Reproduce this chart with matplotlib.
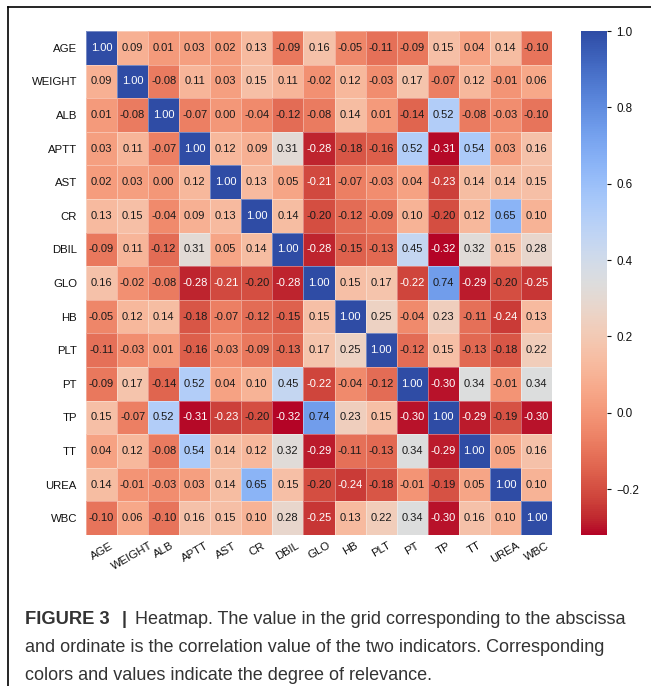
import numpy as np
import matplotlib
matplotlib.use("Agg")
import matplotlib.pyplot as plt
from matplotlib.colors import Normalize, ListedColormap

plt.rcParams['font.family'] = ['Liberation Sans', 'DejaVu Sans']

labels = ["AGE", "WEIGHT", "ALB", "APTT", "AST", "CR", "DBIL", "GLO",
          "HB", "PLT", "PT", "TP", "TT", "UREA", "WBC"]

r_age    = [1.00, 0.09, 0.01, 0.03, 0.02, 0.13, -0.09, 0.16, -0.05, -0.11, -0.09, 0.15, 0.04, 0.14, -0.10]
r_weight = [0.09, 1.00, -0.08, 0.11, 0.03, 0.15, 0.11, -0.02, 0.12, -0.03, 0.17, -0.07, 0.12, -0.01, 0.06]
r_alb    = [0.01, -0.08, 1.00, -0.07, 0.00, -0.04, -0.12, -0.08, 0.14, 0.01, -0.14, 0.52, -0.08, -0.03, -0.10]
r_aptt   = [0.03, 0.11, -0.07, 1.00, 0.12, 0.09, 0.31, -0.28, -0.18, -0.16, 0.52, -0.31, 0.54, 0.03, 0.16]
r_ast    = [0.02, 0.03, 0.00, 0.12, 1.00, 0.13, 0.05, -0.21, -0.07, -0.03, 0.04, -0.23, 0.14, 0.14, 0.15]
r_cr     = [0.13, 0.15, -0.04, 0.09, 0.13, 1.00, 0.14, -0.20, -0.12, -0.09, 0.10, -0.20, 0.12, 0.65, 0.10]
r_dbil   = [-0.09, 0.11, -0.12, 0.31, 0.05, 0.14, 1.00, -0.28, -0.15, -0.13, 0.45, -0.32, 0.32, 0.15, 0.28]
r_glo    = [0.16, -0.02, -0.08, -0.28, -0.21, -0.20, -0.28, 1.00, 0.15, 0.17, -0.22, 0.74, -0.29, -0.20, -0.25]
r_hb     = [-0.05, 0.12, 0.14, -0.18, -0.07, -0.12, -0.15, 0.15, 1.00, 0.25, -0.04, 0.23, -0.11, -0.24, 0.13]
r_plt    = [-0.11, -0.03, 0.01, -0.16, -0.03, -0.09, -0.13, 0.17, 0.25, 1.00, -0.12, 0.15, -0.13, -0.18, 0.22]
r_pt     = [-0.09, 0.17, -0.14, 0.52, 0.04, 0.10, 0.45, -0.22, -0.04, -0.12, 1.00, -0.30, 0.34, -0.01, 0.34]
r_tp     = [0.15, -0.07, 0.52, -0.31, -0.23, -0.20, -0.32, 0.74, 0.23, 0.15, -0.30, 1.00, -0.29, -0.19, -0.30]
r_tt     = [0.04, 0.12, -0.08, 0.54, 0.14, 0.12, 0.32, -0.29, -0.11, -0.13, 0.34, -0.29, 1.00, 0.05, 0.16]
r_urea   = [0.14, -0.01, -0.03, 0.03, 0.14, 0.65, 0.15, -0.20, -0.24, -0.18, -0.01, -0.19, 0.05, 1.00, 0.10]
r_wbc    = [-0.10, 0.06, -0.10, 0.16, 0.15, 0.10, 0.28, -0.25, 0.13, 0.22, 0.34, -0.30, 0.16, 0.10, 1.00]

corr = np.array([r_age, r_weight, r_alb, r_aptt, r_ast, r_cr, r_dbil, r_glo,
                 r_hb, r_plt, r_pt, r_tp, r_tt, r_urea, r_wbc])

cbar_ticks = [-0.2, 0.0, 0.2, 0.4, 0.6, 0.8, 1.0]

W, H = 651, 686
fig = plt.figure(figsize=(W / 100, H / 100), dpi=100)

def fx(px):
    return px / W

def fy(py):
    return 1 - py / H

ax = fig.add_axes([fx(86), fy(535), fx(552) - fx(86), fy(31) - fy(535)])
cax = fig.add_axes([fx(581), fy(535), fx(607) - fx(581), fy(31) - fy(535)])

# coolwarm reversed, with the blue end slightly deepened
base = plt.get_cmap('coolwarm_r')
xs = np.linspace(0, 1, 256)
cols = base(xs)
t = np.clip((xs - 0.5) / 0.5, 0, 1)
cols[:, 0] *= 1 - 0.2 * t ** 2
cols[:, 2] *= 1 - 0.14 * t ** 2
cmap = ListedColormap(cols)

norm = Normalize(vmin=corr.min(), vmax=corr.max())
n = len(labels)
mesh = ax.pcolormesh(np.arange(n + 1), np.arange(n + 1), corr, cmap=cmap, norm=norm,
                     edgecolors=(1, 1, 1, 0.35), linewidth=0.6)
ax.set_xlim(0, n)
ax.set_ylim(n, 0)

for i in range(n):
    for j in range(n):
        v = corr[i, j]
        rgba = cmap(norm(v))
        lum = 0.2126 * rgba[0] + 0.7152 * rgba[1] + 0.0722 * rgba[2]
        color = '#1a1a1a' if lum > 0.408 else 'white'
        ax.text(j + 0.5, i + 0.5, f"{v:.2f}", ha='center', va='center',
                fontsize=8, color=color)

ax.set_xticks(np.arange(n) + 0.5)
ax.set_yticks(np.arange(n) + 0.5)
ax.set_xticklabels(labels, rotation=30, ha='center', fontsize=8.2, color='#111111')
ax.set_yticklabels(labels, fontsize=8.2, color='#111111')
ax.tick_params(axis='y', length=0, pad=6.5)
ax.tick_params(axis='x', length=0, pad=4)
for s in ax.spines.values():
    s.set_visible(False)

cb = fig.colorbar(mesh, cax=cax, ticks=cbar_ticks)
cb.outline.set_visible(False)
cb.ax.tick_params(labelsize=8.4, length=3, width=0.8, colors='#111111')
cb.ax.set_yticklabels([f"{t:.1f}".replace('-', '\u2212') for t in cbar_ticks])

# frame lines
fig.add_artist(plt.Line2D([fx(8), 1], [fy(7), fy(7)], color='black', lw=1.2, transform=fig.transFigure))
fig.add_artist(plt.Line2D([fx(8), fx(8)], [fy(7), 0], color='black', lw=1.2, transform=fig.transFigure))

cap_color = '#333333'
cap_fs = 13.0
t1 = fig.text(fx(25), fy(619), "FIGURE 3", fontsize=13.2, fontweight='bold', color=cap_color, va='center')
fig.canvas.draw()
r = fig.canvas.get_renderer()
bb = t1.get_window_extent(r)
x_after = bb.x1 / W
fig.text(x_after + fx(12), fy(619), "|", fontsize=cap_fs, fontweight='bold', color=cap_color, va='center')
fig.text(x_after + fx(25), fy(619), "Heatmap. The value in the grid corresponding to the abscissa",
         fontsize=cap_fs, color=cap_color, va='center')
fig.text(fx(25), fy(647), "and ordinate is the correlation value of the two indicators. Corresponding",
         fontsize=cap_fs, color=cap_color, va='center')
fig.text(fx(25), fy(675), "colors and values indicate the degree of relevance.",
         fontsize=cap_fs, color=cap_color, va='center')

fig.savefig("out.png", dpi=100)
